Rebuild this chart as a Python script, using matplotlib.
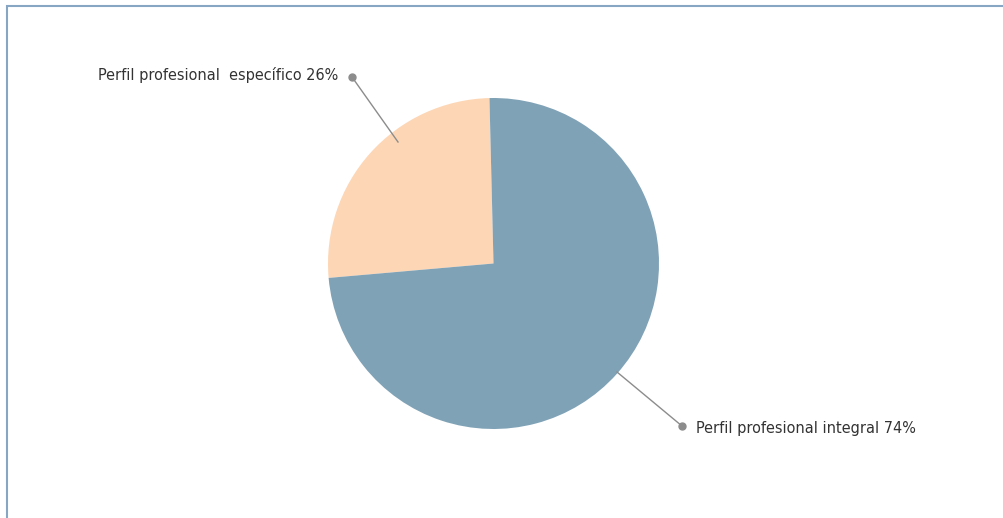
import matplotlib.pyplot as plt
from matplotlib.patches import Rectangle

# datos
categorias = ['Perfil profesional  específico', 'Perfil profesional integral']
valores = [26, 74]
colores = ['#FDD6B5', '#7FA2B6']

fig = plt.figure(figsize=(10.04, 5.18), dpi=100)
ax = fig.add_axes([0, 0, 1, 1])

# marco
fig.patches.append(Rectangle((7 / 1004, -0.1), 1.2, 512 / 518 + 0.1,
                             transform=fig.transFigure, fill=False,
                             edgecolor='#86A6C4', linewidth=1.5))

centro = (493.5, 518 - 263.5)
radio = 165.5
ax.pie(valores, colors=colores, startangle=91.4, counterclock=True,
       center=centro, radius=radio, wedgeprops=dict(linewidth=0),
       frame=True)
ax.set_xlim(0, 1004)
ax.set_ylim(0, 518)
ax.set_aspect('equal')
ax.axis('off')

estilo = dict(fontsize=11.6, color='#333333', family='DejaVu Sans',
              fontstretch='condensed', va='center')

# etiquetas con lineas guia
# especifico
ax.plot([398, 352], [518 - 142, 518 - 77], color='#8C8C8C', lw=1)
ax.plot([352], [518 - 77], 'o', color='#8C8C8C', ms=5)
ax.text(338, 518 - 75, f'{categorias[0]} {valores[0]}%', ha='right', **estilo)

# integral
ax.plot([617, 682], [518 - 372, 518 - 426], color='#8C8C8C', lw=1)
ax.plot([682], [518 - 426], 'o', color='#8C8C8C', ms=5)
ax.text(696, 518 - 428, f'{categorias[1]} {valores[1]}%', ha='left', **estilo)

fig.savefig('out.png', dpi=100)
